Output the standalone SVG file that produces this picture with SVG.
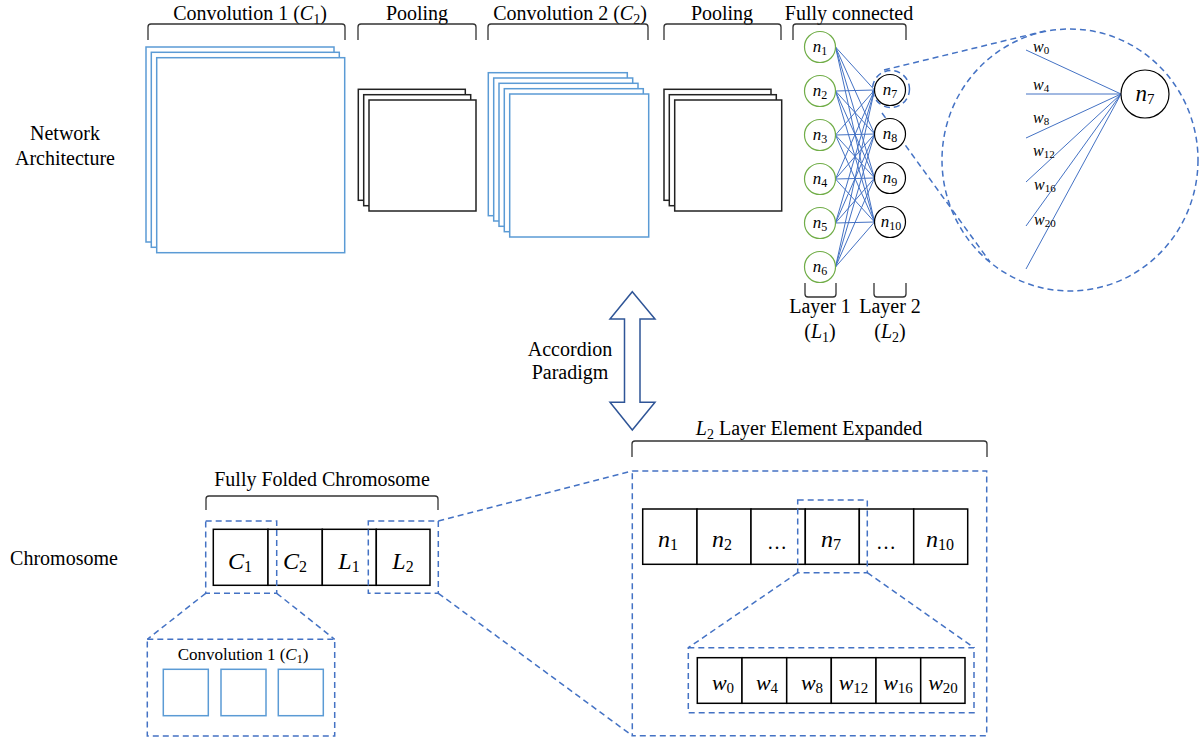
<svg xmlns="http://www.w3.org/2000/svg" width="1199" height="740" viewBox="0 0 1199 740" font-family="'Liberation Serif', 'Times New Roman', serif">
<style>
text{font-family:"Liberation Serif","Times New Roman",serif;fill:#000}
.t20{font-size:20px}
.mi{font-style:italic}
.bracket{fill:none;stroke:#333;stroke-width:1.3}
.conv{fill:#fff;stroke:#5B9BD5;stroke-width:1.5}
.pool{fill:#fff;stroke:#222;stroke-width:1.5}
.cell{fill:#fff;stroke:#000;stroke-width:1.5}
.dash{fill:none;stroke:#4472C4;stroke-width:1.5;stroke-dasharray:6 4}
.fc{stroke:#4472C4;stroke-width:1}
.l1{fill:#fff;stroke:#70AD47;stroke-width:1.2}
.l2{fill:#fff;stroke:#000;stroke-width:1.2}
.nl{font-size:17px}
.ns{font-size:12px}
.wl{font-size:16px}
.ws{font-size:11px}
</style>
<rect width="1199" height="740" fill="#fff"/>

<g id="label-network">
<text class="t20" x="65" y="140" text-anchor="middle">Network</text>
<text class="t20" x="65" y="165" text-anchor="middle">Architecture</text>
</g>
<g id="label-chromosome">
<text class="t20" x="64" y="565" text-anchor="middle">Chromosome</text>
</g>

<g id="conv1">
<text class="t20" x="250" y="20" text-anchor="middle">Convolution 1 (<tspan class="mi">C</tspan><tspan font-size="14" dy="4">1</tspan><tspan dy="-4">)</tspan></text>
<path class="bracket" d="M148,40 L148,27 Q148,24 151,24 L342,24 Q345,24 345,27 L345,40"/>
<rect class="conv" x="146" y="47" width="188" height="195"/>
<rect class="conv" x="151.3" y="52.3" width="188" height="195"/>
<rect class="conv" x="156.7" y="57.7" width="188" height="195"/>
</g>

<g id="pool1">
<text class="t20" x="417" y="20" text-anchor="middle">Pooling</text>
<path class="bracket" d="M358,40 L358,27 Q358,24 361,24 L473,24 Q476,24 476,27 L476,40"/>
<rect class="pool" x="358.3" y="89.3" width="107" height="111"/>
<rect class="pool" x="363.7" y="94.7" width="107" height="111"/>
<rect class="pool" x="369" y="100" width="107" height="111"/>
</g>

<g id="conv2">
<text class="t20" x="570" y="20" text-anchor="middle">Convolution 2 (<tspan class="mi">C</tspan><tspan font-size="14" dy="4">2</tspan><tspan dy="-4">)</tspan></text>
<path class="bracket" d="M488,40 L488,27 Q488,24 491,24 L645,24 Q648,24 648,27 L648,40"/>
<rect class="conv" x="488.3" y="72.7" width="139" height="143"/>
<rect class="conv" x="493.7" y="78" width="139" height="143"/>
<rect class="conv" x="499" y="83.3" width="139" height="143"/>
<rect class="conv" x="504.3" y="88.7" width="139" height="143"/>
<rect class="conv" x="509.7" y="94" width="139" height="143"/>
</g>

<g id="pool2">
<text class="t20" x="722" y="20" text-anchor="middle">Pooling</text>
<path class="bracket" d="M664,40 L664,27 Q664,24 667,24 L778,24 Q781,24 781,27 L781,40"/>
<rect class="pool" x="664" y="89.3" width="107" height="111"/>
<rect class="pool" x="669.3" y="94.7" width="107" height="111"/>
<rect class="pool" x="674.7" y="100" width="107" height="111"/>
</g>

<g id="connectors">
<g id="fc-edges">
<line class="fc" x1="835.5" y1="47" x2="874.5" y2="90"/><line class="fc" x1="835.5" y1="47" x2="874.5" y2="134"/><line class="fc" x1="835.5" y1="47" x2="874.5" y2="178"/><line class="fc" x1="835.5" y1="47" x2="874.5" y2="222"/>
<line class="fc" x1="835.5" y1="91" x2="874.5" y2="90"/><line class="fc" x1="835.5" y1="91" x2="874.5" y2="134"/><line class="fc" x1="835.5" y1="91" x2="874.5" y2="178"/><line class="fc" x1="835.5" y1="91" x2="874.5" y2="222"/>
<line class="fc" x1="835.5" y1="135" x2="874.5" y2="90"/><line class="fc" x1="835.5" y1="135" x2="874.5" y2="134"/><line class="fc" x1="835.5" y1="135" x2="874.5" y2="178"/><line class="fc" x1="835.5" y1="135" x2="874.5" y2="222"/>
<line class="fc" x1="835.5" y1="179" x2="874.5" y2="90"/><line class="fc" x1="835.5" y1="179" x2="874.5" y2="134"/><line class="fc" x1="835.5" y1="179" x2="874.5" y2="178"/><line class="fc" x1="835.5" y1="179" x2="874.5" y2="222"/>
<line class="fc" x1="835.5" y1="223" x2="874.5" y2="90"/><line class="fc" x1="835.5" y1="223" x2="874.5" y2="134"/><line class="fc" x1="835.5" y1="223" x2="874.5" y2="178"/><line class="fc" x1="835.5" y1="223" x2="874.5" y2="222"/>
<line class="fc" x1="835.5" y1="267" x2="874.5" y2="90"/><line class="fc" x1="835.5" y1="267" x2="874.5" y2="134"/><line class="fc" x1="835.5" y1="267" x2="874.5" y2="178"/><line class="fc" x1="835.5" y1="267" x2="874.5" y2="222"/>
</g>
<g id="zoom-edges">
<line class="fc" x1="1026" y1="50" x2="1121" y2="94"/>
<line class="fc" x1="1026" y1="94" x2="1121" y2="94"/>
<line class="fc" x1="1026" y1="138" x2="1121" y2="94"/>
<line class="fc" x1="1026" y1="182" x2="1121" y2="94"/>
<line class="fc" x1="1026" y1="226" x2="1121" y2="94"/>
<line class="fc" x1="1026" y1="269" x2="1121" y2="94"/>
</g>
<g id="dashed-links">
<line class="dash" x1="884" y1="70" x2="1045" y2="31"/>
<line class="dash" x1="882" y1="113" x2="990" y2="262"/>
<line class="dash" x1="438.3" y1="521" x2="632.3" y2="471"/>
<line class="dash" x1="438.3" y1="593.3" x2="632.3" y2="735.7"/>
<line class="dash" x1="205.7" y1="593.3" x2="147.3" y2="639.3"/>
<line class="dash" x1="276.7" y1="593.3" x2="334.7" y2="639.3"/>
<line class="dash" x1="797.7" y1="572.7" x2="688.3" y2="647.7"/>
<line class="dash" x1="867.3" y1="572.7" x2="974" y2="647.7"/>
</g>
</g>

<g id="fully-connected">
<text class="t20" x="849" y="20" text-anchor="middle">Fully connected</text>
<path class="bracket" d="M793,40 L793,27 Q793,24 796,24 L903,24 Q906,24 906,27 L906,40"/>
</g>
<g id="layer1">
<g id="n1"><circle class="l1" cx="820" cy="47" r="15.5"/><text class="nl" x="820" y="52" text-anchor="middle"><tspan class="mi">n</tspan><tspan class="ns" dy="3">1</tspan></text></g>
<g id="n2"><circle class="l1" cx="820" cy="91" r="15.5"/><text class="nl" x="820" y="96" text-anchor="middle"><tspan class="mi">n</tspan><tspan class="ns" dy="3">2</tspan></text></g>
<g id="n3"><circle class="l1" cx="820" cy="135" r="15.5"/><text class="nl" x="820" y="140" text-anchor="middle"><tspan class="mi">n</tspan><tspan class="ns" dy="3">3</tspan></text></g>
<g id="n4"><circle class="l1" cx="820" cy="179" r="15.5"/><text class="nl" x="820" y="184" text-anchor="middle"><tspan class="mi">n</tspan><tspan class="ns" dy="3">4</tspan></text></g>
<g id="n5"><circle class="l1" cx="820" cy="223" r="15.5"/><text class="nl" x="820" y="228" text-anchor="middle"><tspan class="mi">n</tspan><tspan class="ns" dy="3">5</tspan></text></g>
<g id="n6"><circle class="l1" cx="820" cy="267" r="15.5"/><text class="nl" x="820" y="272" text-anchor="middle"><tspan class="mi">n</tspan><tspan class="ns" dy="3">6</tspan></text></g>
<path class="bracket" d="M805,283 L805,294 Q805,297 808,297 L833,297 Q836,297 836,294 L836,283"/>
<text class="t20" x="820" y="313" text-anchor="middle">Layer 1</text>
<text class="t20" x="820" y="338" text-anchor="middle">(<tspan class="mi">L</tspan><tspan font-size="14" dy="4">1</tspan><tspan dy="-4">)</tspan></text>
</g>
<g id="layer2">
<g id="n7"><circle class="l2" cx="890" cy="90" r="15.5"/><text class="nl" x="890" y="95" text-anchor="middle"><tspan class="mi">n</tspan><tspan class="ns" dy="3">7</tspan></text><circle class="dash" cx="891" cy="89" r="18.5" stroke-dasharray="4 3"/></g>
<g id="n8"><circle class="l2" cx="890" cy="134" r="15.5"/><text class="nl" x="890" y="139" text-anchor="middle"><tspan class="mi">n</tspan><tspan class="ns" dy="3">8</tspan></text></g>
<g id="n9"><circle class="l2" cx="890" cy="178" r="15.5"/><text class="nl" x="890" y="183" text-anchor="middle"><tspan class="mi">n</tspan><tspan class="ns" dy="3">9</tspan></text></g>
<g id="n10"><circle class="l2" cx="890" cy="222" r="15.5"/><text class="nl" x="891" y="227" text-anchor="middle"><tspan class="mi">n</tspan><tspan class="ns" dy="3">10</tspan></text></g>
<path class="bracket" d="M874,283 L874,294 Q874,297 877,297 L903,297 Q906,297 906,294 L906,283"/>
<text class="t20" x="890" y="313" text-anchor="middle">Layer 2</text>
<text class="t20" x="890" y="338" text-anchor="middle">(<tspan class="mi">L</tspan><tspan font-size="14" dy="4">2</tspan><tspan dy="-4">)</tspan></text>
</g>

<g id="n7-zoom">
<ellipse class="dash" cx="1070" cy="160" rx="128" ry="131"/>
<circle class="l2" cx="1145" cy="94" r="24"/>
<text x="1145" y="101" font-size="23" text-anchor="middle"><tspan class="mi">n</tspan><tspan font-size="15" dy="3">7</tspan></text>
<text class="wl" x="1033" y="52"><tspan class="mi">w</tspan><tspan class="ws" dy="2">0</tspan></text>
<text class="wl" x="1033" y="90"><tspan class="mi">w</tspan><tspan class="ws" dy="2">4</tspan></text>
<text class="wl" x="1033" y="123"><tspan class="mi">w</tspan><tspan class="ws" dy="2">8</tspan></text>
<text class="wl" x="1033" y="156"><tspan class="mi">w</tspan><tspan class="ws" dy="2">12</tspan></text>
<text class="wl" x="1034" y="190"><tspan class="mi">w</tspan><tspan class="ws" dy="2">16</tspan></text>
<text class="wl" x="1034" y="225"><tspan class="mi">w</tspan><tspan class="ws" dy="2">20</tspan></text>
</g>

<g id="accordion">
<polygon points="632.3,291.7 655,319 640,319 640,402.3 655,402.3 632.3,430 610,402.3 624.5,402.3 624.5,319 610,319" fill="#fff" stroke="#2F5597" stroke-width="1.5"/>
<text class="t20" x="570" y="356" text-anchor="middle">Accordion</text>
<text class="t20" x="570" y="379" text-anchor="middle">Paradigm</text>
</g>

<g id="chromosome">
<text class="t20" x="322" y="486" text-anchor="middle">Fully Folded Chromosome</text>
<path class="bracket" d="M206,510 L206,499 Q206,496 209,496 L435,496 Q438,496 438,499 L438,510"/>
<rect class="cell" x="213.3" y="529.3" width="54.7" height="56"/>
<rect class="cell" x="268" y="529.3" width="54.3" height="56"/>
<rect class="cell" x="322.3" y="529.3" width="54" height="56"/>
<rect class="cell" x="376.3" y="529.3" width="53.7" height="56"/>
<text x="240" y="569" font-size="24" text-anchor="middle"><tspan class="mi">C</tspan><tspan font-size="16" dy="3">1</tspan></text>
<text x="295" y="569" font-size="24" text-anchor="middle"><tspan class="mi">C</tspan><tspan font-size="16" dy="3">2</tspan></text>
<text x="349" y="569" font-size="24" text-anchor="middle"><tspan class="mi">L</tspan><tspan font-size="16" dy="3">1</tspan></text>
<text x="403" y="569" font-size="24" text-anchor="middle"><tspan class="mi">L</tspan><tspan font-size="16" dy="3">2</tspan></text>
<rect class="dash" x="205.7" y="521" width="71" height="72.3"/>
<rect class="dash" x="368.3" y="521" width="70" height="72.3"/>
</g>

<g id="conv1-expanded">
<rect class="dash" x="147.3" y="639.3" width="187.4" height="96.7"/>
<text x="243" y="660" font-size="17" text-anchor="middle">Convolution 1 (<tspan class="mi">C</tspan><tspan font-size="12" dy="3">1</tspan><tspan dy="-3">)</tspan></text>
<rect class="conv" x="163.3" y="669.3" width="45" height="46.4"/>
<rect class="conv" x="221" y="669.3" width="45" height="46.4"/>
<rect class="conv" x="278.3" y="669.3" width="45" height="46.4"/>
</g>

<g id="l2-expanded">
<text class="t20" x="809" y="435" text-anchor="middle"><tspan class="mi">L</tspan><tspan font-size="14" dy="4">2</tspan><tspan dy="-4"> Layer Element Expanded</tspan></text>
<path class="bracket" d="M632,457 L632,444 Q632,441 635,441 L984,441 Q987,441 987,444 L987,457"/>
<rect class="dash" x="632.3" y="471" width="354.4" height="264.7"/>
<rect class="cell" x="642.7" y="509" width="54.3" height="55.3"/>
<rect class="cell" x="697" y="509" width="54" height="55.3"/>
<rect class="cell" x="751" y="509" width="54.3" height="55.3"/>
<rect class="cell" x="805.3" y="509" width="54" height="55.3"/>
<rect class="cell" x="859.3" y="509" width="54.4" height="55.3"/>
<rect class="cell" x="913.7" y="509" width="54" height="55.3"/>
<text x="668" y="547" font-size="24" text-anchor="middle"><tspan class="mi">n</tspan><tspan font-size="16" dy="3">1</tspan></text>
<text x="722" y="547" font-size="24" text-anchor="middle"><tspan class="mi">n</tspan><tspan font-size="16" dy="3">2</tspan></text>
<text x="777" y="549" font-size="20" text-anchor="middle">…</text>
<text x="831" y="547" font-size="24" text-anchor="middle"><tspan class="mi">n</tspan><tspan font-size="16" dy="3">7</tspan></text>
<text x="886" y="549" font-size="20" text-anchor="middle">…</text>
<text x="940" y="547" font-size="24" text-anchor="middle"><tspan class="mi">n</tspan><tspan font-size="16" dy="3">10</tspan></text>
<rect class="dash" x="797.7" y="500" width="69.6" height="72.7"/>
</g>

<g id="weights">
<rect class="dash" x="688.3" y="647.7" width="285.7" height="65"/>
<rect class="cell" x="697.3" y="657.7" width="44.7" height="45.6"/>
<rect class="cell" x="742" y="657.7" width="44.7" height="45.6"/>
<rect class="cell" x="786.7" y="657.7" width="44.6" height="45.6"/>
<rect class="cell" x="831.3" y="657.7" width="44.7" height="45.6"/>
<rect class="cell" x="876" y="657.7" width="44.7" height="45.6"/>
<rect class="cell" x="920.7" y="657.7" width="44.3" height="45.6"/>
<text x="723" y="690" font-size="22" text-anchor="middle"><tspan class="mi">w</tspan><tspan font-size="15" dy="3">0</tspan></text>
<text x="767" y="690" font-size="22" text-anchor="middle"><tspan class="mi">w</tspan><tspan font-size="15" dy="3">4</tspan></text>
<text x="812" y="690" font-size="22" text-anchor="middle"><tspan class="mi">w</tspan><tspan font-size="15" dy="3">8</tspan></text>
<text x="853.5" y="690" font-size="22" text-anchor="middle"><tspan class="mi">w</tspan><tspan font-size="15" dy="3">12</tspan></text>
<text x="898" y="690" font-size="22" text-anchor="middle"><tspan class="mi">w</tspan><tspan font-size="15" dy="3">16</tspan></text>
<text x="943" y="690" font-size="22" text-anchor="middle"><tspan class="mi">w</tspan><tspan font-size="15" dy="3">20</tspan></text>
</g>
</svg>
